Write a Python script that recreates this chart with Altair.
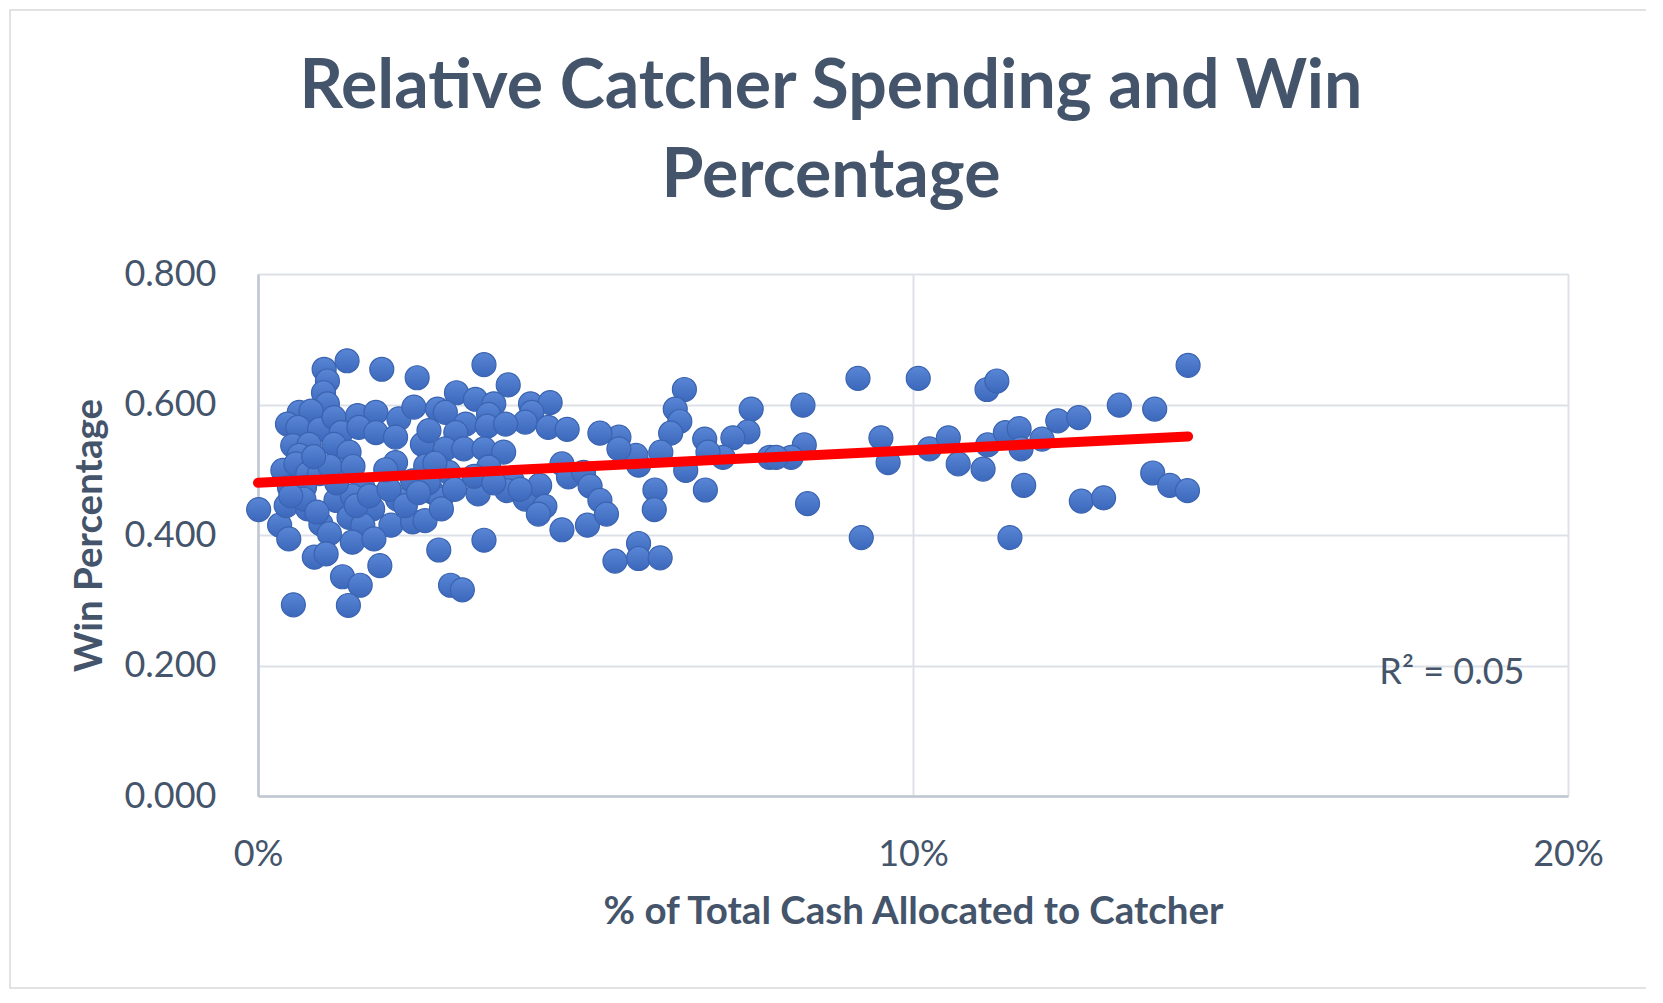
import altair as alt
import pandas as pd

# % of total cash allocated to catcher (in percent) and win percentage
cash_pct = [
    0.01, 0.33, 0.47, 0.54, 1.01, 1.36, 1.89, 2.43, 1.06, 1.00, 1.06, 0.63, 0.81, 0.45, 0.61, 0.94,
    1.16, 1.52, 1.80, 2.15, 2.38, 1.27, 1.54, 1.80, 2.10, 2.51, 0.53, 0.78, 1.16, 1.39, 0.63, 0.38,
    0.58, 0.76, 0.94, 1.27, 2.10, 2.36, 0.48, 0.71, 1.60, 1.19, 1.44, 1.75, 2.13, 0.43, 0.76, 0.96,
    1.39, 1.60, 2.03, 2.36, 1.09, 1.44, 1.77, 0.86, 1.04, 1.86, 1.29, 1.56, 1.38,
    3.45, 3.82, 3.03, 3.32, 3.60, 2.74, 2.86, 3.52, 4.16, 4.46, 4.18, 4.08, 4.43, 4.72, 3.17, 3.50,
    3.78, 2.61, 3.02, 2.86, 3.14, 3.45, 3.75, 3.52, 2.91, 2.56, 4.64, 4.74, 4.97, 5.07, 3.88, 3.80,
    3.36, 2.66, 2.79, 4.08, 4.30, 4.38, 4.28, 2.55, 4.64, 5.03, 3.45, 2.76, 2.94, 3.12,
    9.16, 9.51, 9.62, 9.21, 8.32, 8.34, 8.14, 8.39, 7.81, 7.91, 7.53, 7.48, 7.25, 7.10, 6.82, 6.87,
    6.83, 6.51, 6.37, 6.44, 6.30, 6.15, 6.53, 6.06, 6.05, 5.81, 5.77, 5.51, 5.51, 5.22, 5.81, 5.81,
    6.14, 5.45, 5.22, 5.32,
    10.08, 11.13, 11.28, 10.25, 10.54, 10.69, 11.07, 11.14, 11.41, 11.62, 11.65, 11.69, 11.48, 11.97,
    12.21, 12.53, 12.57, 12.91, 13.15, 13.69, 13.66, 13.92, 14.19, 14.20,
    # points packed inside the dense cluster
    0.70, 0.90, 1.20, 1.50, 1.70, 2.00, 2.25, 2.60, 2.80, 3.00, 3.30, 0.50, 1.10, 1.95, 2.45, 3.60,
    4.00, 0.85, 1.45, 2.70,
]
win_pct = [
    0.439, 0.415, 0.394, 0.293, 0.654, 0.667, 0.654, 0.641, 0.636, 0.618, 0.601, 0.588, 0.590, 0.570, 0.565, 0.562,
    0.580, 0.583, 0.588, 0.578, 0.596, 0.557, 0.565, 0.557, 0.550, 0.539, 0.537, 0.539, 0.539, 0.527, 0.522, 0.499,
    0.509, 0.494, 0.494, 0.499, 0.511, 0.483, 0.473, 0.473, 0.473, 0.453, 0.460, 0.440, 0.455, 0.445, 0.440, 0.417,
    0.427, 0.415, 0.415, 0.420, 0.402, 0.389, 0.394, 0.366, 0.371, 0.353, 0.336, 0.323, 0.292,
    0.661, 0.630, 0.618, 0.608, 0.601, 0.593, 0.588, 0.585, 0.601, 0.603, 0.588, 0.573, 0.565, 0.562, 0.570, 0.567,
    0.570, 0.560, 0.557, 0.532, 0.532, 0.532, 0.527, 0.504, 0.496, 0.506, 0.509, 0.489, 0.496, 0.475, 0.483, 0.468,
    0.463, 0.466, 0.455, 0.455, 0.476, 0.444, 0.432, 0.422, 0.408, 0.415, 0.392, 0.377, 0.323, 0.316,
    0.640, 0.549, 0.511, 0.396, 0.599, 0.538, 0.519, 0.448, 0.519, 0.519, 0.593, 0.558, 0.549, 0.519, 0.547, 0.527,
    0.469, 0.623, 0.593, 0.574, 0.556, 0.527, 0.499, 0.469, 0.439, 0.507, 0.522, 0.550, 0.532, 0.556, 0.387, 0.364,
    0.365, 0.360, 0.453, 0.432,
    0.640, 0.623, 0.636, 0.532, 0.549, 0.509, 0.501, 0.538, 0.557, 0.563, 0.532, 0.476, 0.396, 0.547,
    0.575, 0.580, 0.452, 0.457, 0.599, 0.593, 0.495, 0.476, 0.468, 0.660,
    0.455, 0.435, 0.480, 0.445, 0.460, 0.470, 0.445, 0.480, 0.440, 0.470, 0.490, 0.460, 0.505, 0.500, 0.465, 0.480,
    0.470, 0.520, 0.505, 0.510,
]

# linear trendline endpoints
trend_x = [0.0, 14.2]
trend_y = [0.480, 0.551]

x_ticks = [0, 10, 20]
y_ticks = [0.0, 0.2, 0.4, 0.6, 0.8]

title_lines = ["Relative Catcher Spending and Win", "Percentage"]
x_title = "% of Total Cash Allocated to Catcher"
y_title = "Win Percentage"

r2_text = ["R\u00b2 = 0.05"]
r2_x = [17.12]
r2_y = [0.171]

TEXT = "#44546A"
GRID = "#DDE1E7"
FONT = "Lato"

W, H = 1310, 522

df = pd.DataFrame({"cash": cash_pct, "win": win_pct})
trend_df = pd.DataFrame({"cash": trend_x, "win": trend_y})
r2_df = pd.DataFrame({"cash": r2_x, "win": r2_y, "label": r2_text})

x_scale = alt.Scale(domain=[0, 20], nice=False, zero=True)
y_scale = alt.Scale(domain=[0, 0.8], nice=False)

x_axis = alt.Axis(
    values=x_ticks, labelExpr="datum.value + '%'", title=x_title,
    grid=True, gridColor=GRID, gridWidth=2,
    domain=True, domainColor="#BFC7D3", domainWidth=2.5,
    ticks=False, tickSize=0, labelFlush=False, labelOverlap=False,
    labelFont=FONT, labelFontSize=36, labelColor=TEXT,
    labelBaseline="alphabetic", labelPadding=69,
    titleFont=FONT, titleFontSize=38.5, titleFontWeight="bold", titleColor=TEXT,
    titleX=W / 2, titleY=127, titleAlign="center", titleBaseline="alphabetic",
    zindex=0,
)
y_axis = alt.Axis(
    values=y_ticks, format=".3f", title=y_title,
    grid=True, gridColor=GRID, gridWidth=2,
    domain=True, domainColor="#BFC7D3", domainWidth=2.5,
    ticks=False, tickSize=0, labelFlush=False, labelOverlap=False,
    labelFont=FONT, labelFontSize=36, labelColor=TEXT, labelPadding=42,
    titleFont=FONT, titleFontSize=38.5, titleFontWeight="bold", titleColor=TEXT,
    titleX=-157, titleY=H / 2, titleAngle=270, titleAlign="center", titleBaseline="alphabetic",
    zindex=0,
)

x_enc = alt.X("cash:Q", scale=x_scale, axis=x_axis)
y_enc = alt.Y("win:Q", scale=y_scale, axis=y_axis)

grad = alt.LinearGradient(
    gradient="linear",
    stops=[alt.GradientStop(color="#5A86D6", offset=0), alt.GradientStop(color="#3C68BC", offset=1)],
    x1=0, x2=0, y1=0, y2=1,
)

points = alt.Chart(df).mark_point(
    shape="circle", filled=True, fill=grad, stroke="#3A63B0", strokeWidth=1.2,
    size=575, opacity=1,
).encode(x=x_enc, y=y_enc)

trend = alt.Chart(trend_df).mark_line(
    color="#FF0000", strokeWidth=10, strokeCap="round"
).encode(x="cash:Q", y="win:Q")

r2 = alt.Chart(r2_df).mark_text(
    font=FONT, fontSize=36, color=TEXT, align="left", baseline="alphabetic"
).encode(x="cash:Q", y="win:Q", text="label:N")

frame = alt.Chart(alt.Data(values=[{"k": 1}])).mark_rect(
    filled=False, stroke="#D9D9D9", strokeWidth=1.5
).encode(
    x=alt.value(-248), x2=alt.value(W + 81), y=alt.value(-264), y2=alt.value(H + 192)
)

chart = alt.layer(frame, points, trend, r2).properties(
    width=W, height=H,
    title=alt.TitleParams(
        text=title_lines, font=FONT, fontSize=68, fontWeight="bold", color=TEXT,
        anchor="middle", frame="group", offset=0, dx=-82, dy=270, lineHeight=89,
        baseline="bottom",
    ),
    autosize=alt.AutoSizeParams(type="none"),
    padding={"left": 250, "top": 266, "right": 78, "bottom": 194},
).configure_view(stroke=None).configure(background="white")

chart.save("out.html", embed_options={"renderer": "svg", "actions": False})
